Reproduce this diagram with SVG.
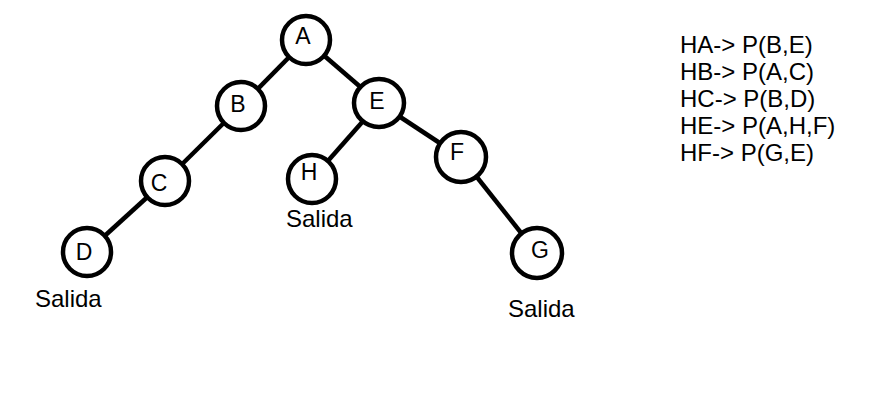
<svg xmlns="http://www.w3.org/2000/svg" width="869" height="409" viewBox="0 0 869 409">
<style>
.n{fill:#fff;stroke:#000;stroke-width:4.5}
.e{stroke:#000;stroke-width:4.5;fill:none}
.l{font-family:"Liberation Sans",Arial,sans-serif;font-size:23px;fill:#000;text-anchor:middle}
.t{font-family:"Liberation Sans",Arial,sans-serif;font-size:24px;fill:#000}
</style>
<rect width="869" height="409" fill="#fff"/>
<g id="edges">
<line class="e" x1="306" y1="40" x2="241" y2="106"/>
<line class="e" x1="306" y1="40" x2="379" y2="103"/>
<line class="e" x1="241" y1="106" x2="165" y2="181"/>
<line class="e" x1="165" y1="181" x2="87" y2="252"/>
<line class="e" x1="379" y1="103" x2="312" y2="179"/>
<line class="e" x1="379" y1="103" x2="461" y2="157"/>
<line class="e" x1="461" y1="157" x2="537" y2="253"/>
</g>
<g id="A"><circle class="n" cx="306" cy="40" r="24"/><text class="l" x="303" y="44">A</text></g>
<g id="B"><circle class="n" cx="241" cy="106" r="24"/><text class="l" x="238" y="112">B</text></g>
<g id="E"><ellipse class="n" cx="379" cy="103" rx="25" ry="24"/><text class="l" x="377" y="109">E</text></g>
<g id="C"><circle class="n" cx="165" cy="181" r="24"/><text class="l" x="159" y="191">C</text></g>
<g id="H"><circle class="n" cx="312" cy="179" r="24"/><text class="l" x="309" y="180">H</text></g>
<g id="F"><circle class="n" cx="461" cy="157" r="25"/><text class="l" x="457" y="160">F</text></g>
<g id="D"><circle class="n" cx="87" cy="252" r="24"/><text class="l" x="84" y="260">D</text></g>
<g id="G"><circle class="n" cx="537" cy="253" r="25"/><text class="l" x="540" y="258">G</text></g>
<g id="labels">
<text class="t" x="35" y="307">Salida</text>
<text class="t" x="286" y="227">Salida</text>
<text class="t" x="508" y="317">Salida</text>
<text class="t" x="680" y="53">HA-&gt; P(B,E)</text>
<text class="t" x="680" y="80">HB-&gt; P(A,C)</text>
<text class="t" x="680" y="107">HC-&gt; P(B,D)</text>
<text class="t" x="680" y="134">HE-&gt; P(A,H,F)</text>
<text class="t" x="680" y="161">HF-&gt; P(G,E)</text>
</g>
</svg>
